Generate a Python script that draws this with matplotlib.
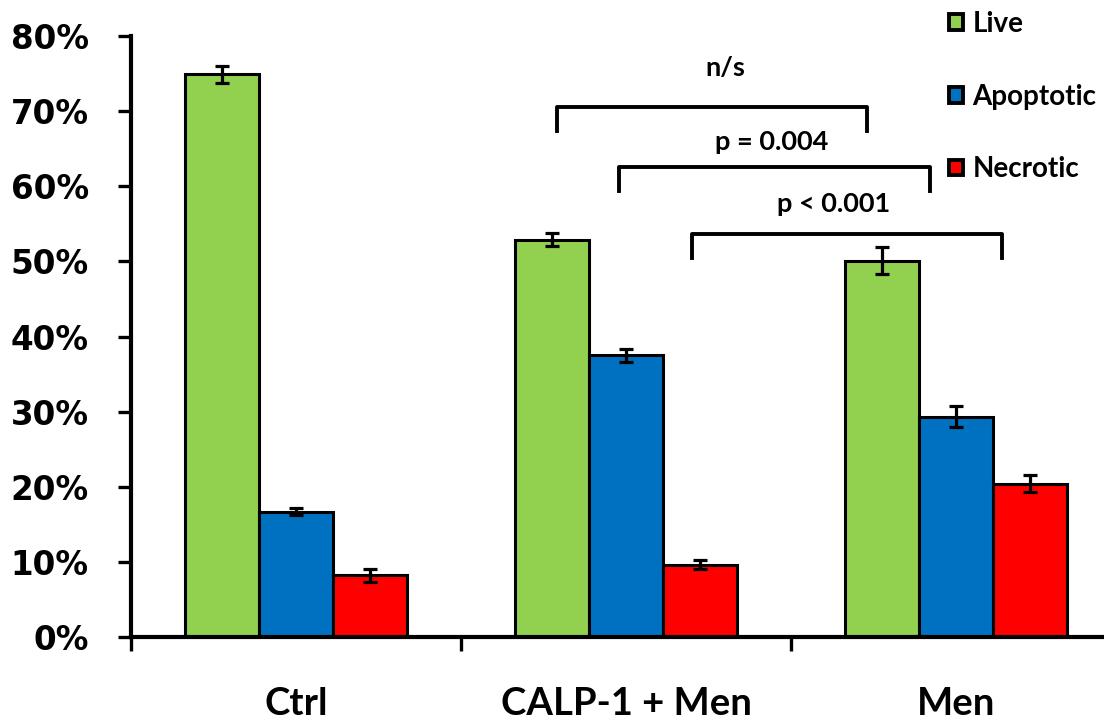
import matplotlib
matplotlib.use("Agg")
import matplotlib.pyplot as plt
from matplotlib.patches import Patch
from matplotlib.ticker import FuncFormatter
import numpy as np

# data (percent of cells)
groups = ["Ctrl", "CALP-1 + Men", "Men"]
series = ["Live", "Apoptotic", "Necrotic"]
live = [74.9, 52.9, 50.1]
apoptotic = [16.7, 37.5, 29.3]
necrotic = [8.2, 9.6, 20.4]
live_err = [1.1, 0.9, 1.8]
apoptotic_err = [0.5, 0.9, 1.4]
necrotic_err = [0.9, 0.6, 1.1]
colors = ["#92D050", "#0070C0", "#FF0000"]

# significance brackets: (x start, x end, y top, label)
brackets = [
    (0.79, 1.73, 70.6, "n/s"),
    (0.98, 1.92, 62.6, "p = 0.004"),
    (1.20, 2.14, 53.7, "p < 0.001"),
]
bracket_label_x = [1.30, 1.44, 1.63]
bracket_label_y = [75.8, 65.9, 57.7]

values = [live, apoptotic, necrotic]
errors = [live_err, apoptotic_err, necrotic_err]

fig = plt.figure(figsize=(11.04, 7.2), dpi=100)
ax = fig.add_axes([131 / 1104, 1 - 637 / 720, 990 / 1104, 601 / 720])

x = np.arange(len(groups))
width = 0.224
for i, (vals, errs) in enumerate(zip(values, errors)):
    ax.bar(x + (i - 1) * width, vals, width, color=colors[i],
           edgecolor="black", linewidth=2.2, zorder=2)
    ax.errorbar(x + (i - 1) * width, vals, yerr=errs, fmt="none",
                ecolor="black", elinewidth=2.3, capsize=5, capthick=2.3, zorder=3)

# brackets
for (x0, x1, ytop, label), lx, ly in zip(brackets, bracket_label_x, bracket_label_y):
    ax.plot([x0, x0, x1, x1], [ytop - 3.2, ytop, ytop, ytop - 3.2],
            color="black", lw=2.8, solid_joinstyle="round", clip_on=False)
    ax.text(lx, ly, label, ha="center", va="center", fontsize=19.5,
            fontweight="bold", family="Lato")

ax.set_xlim(-0.5, 2.5)
ax.set_ylim(0, 80)
ax.set_yticks(np.arange(0, 81, 10))
ax.yaxis.set_major_formatter(FuncFormatter(lambda v, p: f"{int(v)}%"))
ax.tick_params(axis="y", direction="out", length=9.5, width=2.4, pad=21,
               labelsize=23.5)
for lbl in ax.get_yticklabels():
    lbl.set_fontweight("bold")

ax.set_xticks(x)
ax.set_xticklabels(groups, fontsize=27.5, fontweight="bold", family="Lato")
ax.tick_params(axis="x", which="major", length=0, pad=36)
ax.set_xticks([-0.5, 0.5, 1.5, 2.5], minor=True)
ax.tick_params(axis="x", which="minor", direction="out", length=10, width=2.4)

for s in ["top", "right"]:
    ax.spines[s].set_visible(False)
for s in ["left", "bottom"]:
    ax.spines[s].set_linewidth(3)

handles = [Patch(facecolor=c, edgecolor="black", linewidth=2.8) for c in colors]
leg = fig.legend(handles, series, loc="upper left",
                 bbox_to_anchor=(924 / 1104, 1 + 14 / 720), frameon=False,
                 handlelength=0.5, handleheight=0.5, handletextpad=0.35,
                 labelspacing=1.68, prop={"family": "Lato", "weight": "bold", "size": 20})

fig.savefig("out.png", dpi=100)
